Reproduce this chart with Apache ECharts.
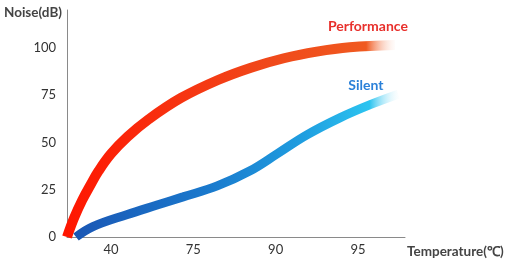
<!DOCTYPE html>
<html>
<head>
<meta charset="utf-8">
<script src="https://cdn.jsdelivr.net/npm/echarts@6/dist/echarts.min.js"></script>
<style>
html,body{margin:0;padding:0;background:#fff;}
#chart{width:512px;height:259px;}
</style>
</head>
<body>
<div id="chart"></div>
<script>
// Tick labels: temperatures placed at evenly spaced positions 1..4
var xTickPositions = [1, 2, 3, 4];
var xTickLabels = ['40', '75', '90', '95'];
var yTickValues = [0, 25, 50, 75, 100];

// Curves: [axis position, noise dB]
var performanceX = [0.465, 0.55, 0.65, 0.75, 0.85, 1.0, 1.2, 1.45, 1.85, 2.3, 2.7, 3.1, 3.5, 3.9, 4.45];
var performanceY = [0, 10, 19.5, 27.5, 35, 44, 53, 62, 73.5, 83, 89.5, 94.5, 98, 100.3, 101.5];
var silentX = [0.575, 0.78, 1.19, 1.56, 1.875, 2.29, 2.69, 3.02, 3.38, 3.78, 4.18, 4.49];
var silentY = [0, 5.5, 11.8, 16.9, 21.2, 27, 35, 44, 54, 63, 70.5, 75.5];

function pairs(xs, ys){ return xs.map(function(x,i){ return [x, ys[i]]; }); }

var chart = echarts.init(document.getElementById('chart'), null, {renderer:'canvas'});
var FONT = 'Lato';
chart.setOption({
  animation: false,
  backgroundColor: '#fff',
  grid: {left: 67, right: 107, top: 10, bottom: 22},
  xAxis: {
    type: 'value', min: 0.465, max: 4.572,
    name: 'Temperature(℃)', nameLocation: 'end', nameGap: 2,
    nameTextStyle: {color: '#444', fontFamily: FONT, fontWeight: 'bold', fontSize: 13.5, verticalAlign: 'top', padding: [8, 0, 0, 0]},
    axisLine: {show: true, lineStyle: {color: '#8a8a8a', width: 1}},
    axisTick: {show: false},
    splitLine: {show: false},
    axisLabel: {
      customValues: xTickPositions,
      color: '#333', fontFamily: FONT, fontSize: 13, margin: 6,
      formatter: function(v){ var i = xTickPositions.indexOf(v); return i >= 0 ? xTickLabels[i] : ''; }
    }
  },
  yAxis: {
    type: 'value', min: 0, max: 120,
    name: 'Noise(dB)', nameLocation: 'end', nameGap: -3,
    nameTextStyle: {color: '#444', fontFamily: FONT, fontWeight: 'bold', fontSize: 13.5, align: 'right', verticalAlign: 'middle', padding: [0, 5, 0, 0]},
    axisLine: {show: true, lineStyle: {color: '#8a8a8a', width: 1}},
    axisTick: {show: false},
    splitLine: {show: false},
    axisLabel: {customValues: yTickValues, color: '#333', fontFamily: FONT, fontSize: 13, margin: 11}
  },
  series: [
    {
      name: 'Performance', type: 'line', smooth: 0.4, symbol: 'none',
      data: pairs(performanceX, performanceY),
      lineStyle: {
        width: 10, cap: 'butt',
        color: new echarts.graphic.LinearGradient(0, 0, 1, 0, [
          {offset: 0, color: '#ff1500'},
          {offset: 0.3, color: '#f8300f'},
          {offset: 0.6, color: '#f0481a'},
          {offset: 0.9, color: '#f05a20'},
          {offset: 1, color: 'rgba(255,255,255,0)'}
        ])
      },
      endLabel: {show: true, formatter: 'Performance', distance: 0, offset: [-67, -19],
        color: '#e8302c', fontFamily: FONT, fontWeight: 'bold', fontSize: 14}
    },
    {
      name: 'Silent', type: 'line', smooth: 0.4, symbol: 'none',
      data: pairs(silentX, silentY),
      lineStyle: {
        width: 9, cap: 'butt',
        color: new echarts.graphic.LinearGradient(0, 0, 1, 0, [
          {offset: 0, color: '#1a56b4'},
          {offset: 0.4, color: '#1a78cc'},
          {offset: 0.7, color: '#1f9ee0'},
          {offset: 0.9, color: '#2cc4f0'},
          {offset: 1, color: 'rgba(255,255,255,0)'}
        ])
      },
      endLabel: {show: true, formatter: 'Silent', distance: 0, offset: [-50, -9],
        color: '#2a80d8', fontFamily: FONT, fontWeight: 'bold', fontSize: 14}
    }
  ]
});
</script>
</body>
</html>
